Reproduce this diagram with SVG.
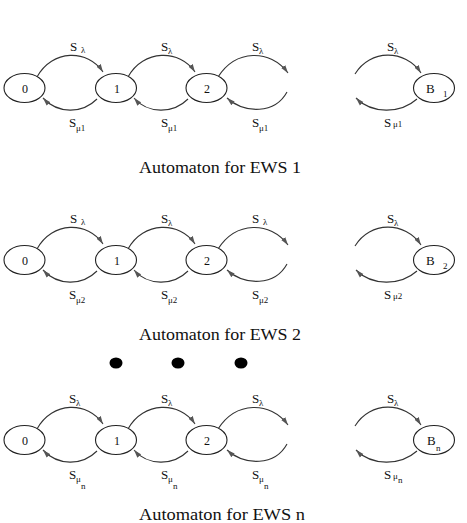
<svg xmlns="http://www.w3.org/2000/svg" width="467" height="523" viewBox="0 0 467 523">
<style>
.n{fill:#fff;stroke:#222;stroke-width:1.1}
.e{fill:none;stroke:#333;stroke-width:1.1;marker-end:url(#ah)}
.t{font-family:"Liberation Serif","Times New Roman",serif;fill:#111}
.lb{font-size:13px}
.sb{font-size:9px}
.nd{font-size:12px;text-anchor:middle}
.ti{font-size:16px}
</style>
<defs>
<marker id="ah" markerUnits="userSpaceOnUse" markerWidth="9" markerHeight="6" refX="8" refY="3" orient="auto">
<path d="M0,0.5 L8,3 L0,5.5 Z" fill="#555"/>
</marker>
</defs>
<rect width="467" height="523" fill="#fff"/>

<!-- Row 1 -->
<g id="row1">
<g id="edges1">
<path class="e" d="M37,77 C52,49 88,49 103,72"/>
<path class="e" d="M97,99 C82,114 58,114 43,98"/>
<path class="e" d="M128,77 C143,49 180,49 195,72"/>
<path class="e" d="M188,99 C173,114 148,114 134,98"/>
<path class="e" d="M218,77 C236,49 270,49 288,73"/>
<path class="e" d="M287,92 C275,114 245,114 227,98"/>
<path class="e" d="M355,74 C370,49 405,49 421,73"/>
<path class="e" d="M417,99 C400,114 372,114 356,98"/>
</g>
<g id="r1n0"><ellipse class="n" cx="24.5" cy="88" rx="20.5" ry="14.5"/><text class="t nd" x="25" y="92.5">0</text></g>
<g id="r1n1"><ellipse class="n" cx="116" cy="88" rx="20.5" ry="14.5"/><text class="t nd" x="117" y="92.5">1</text></g>
<g id="r1n2"><ellipse class="n" cx="206.5" cy="88" rx="20.5" ry="14.5"/><text class="t nd" x="207" y="92.5">2</text></g>
<g id="r1nB"><ellipse class="n" cx="434" cy="88" rx="20.5" ry="14.5"/><text class="t lb" x="426" y="93">B</text><text class="t sb" x="443" y="97">1</text></g>
<g id="labels1">
<text class="t lb" x="70" y="51">S</text><text class="t sb" x="81" y="53">λ</text>
<text class="t lb" x="161" y="51">S</text><text class="t sb" x="168" y="54">λ</text>
<text class="t lb" x="252" y="51">S</text><text class="t sb" x="259" y="54">λ</text>
<text class="t lb" x="387" y="51">S</text><text class="t sb" x="394" y="54">λ</text>
<text class="t lb" x="69" y="127">S</text><text class="t sb" x="76" y="131">μ1</text>
<text class="t lb" x="161" y="127">S</text><text class="t sb" x="168" y="131">μ1</text>
<text class="t lb" x="252" y="127">S</text><text class="t sb" x="259" y="131">μ1</text>
<text class="t lb" x="384" y="127">S</text><text class="t sb" x="393" y="127">μ1</text>
</g>
<text class="t ti" x="139" y="173" textLength="162" lengthAdjust="spacingAndGlyphs">Automaton for EWS 1</text>
</g>

<!-- Row 2 -->
<g id="row2" transform="translate(0,172)">
<g id="edges2">
<path class="e" d="M37,77 C52,49 88,49 103,72"/>
<path class="e" d="M97,99 C82,114 58,114 43,98"/>
<path class="e" d="M128,77 C143,49 180,49 195,72"/>
<path class="e" d="M188,99 C173,114 148,114 134,98"/>
<path class="e" d="M218,77 C236,49 270,49 288,73"/>
<path class="e" d="M287,92 C275,114 245,114 227,98"/>
<path class="e" d="M355,74 C370,49 405,49 421,73"/>
<path class="e" d="M417,99 C400,114 372,114 356,98"/>
</g>
<g id="r2n0"><ellipse class="n" cx="24.5" cy="88" rx="20.5" ry="14.5"/><text class="t nd" x="25" y="92.5">0</text></g>
<g id="r2n1"><ellipse class="n" cx="116" cy="88" rx="20.5" ry="14.5"/><text class="t nd" x="117" y="92.5">1</text></g>
<g id="r2n2"><ellipse class="n" cx="206.5" cy="88" rx="20.5" ry="14.5"/><text class="t nd" x="207" y="92.5">2</text></g>
<g id="r2nB"><ellipse class="n" cx="434" cy="88" rx="20.5" ry="14.5"/><text class="t lb" x="426" y="93">B</text><text class="t sb" x="443" y="97">2</text></g>
<g id="labels2">
<text class="t lb" x="70" y="51">S</text><text class="t sb" x="81" y="53">λ</text>
<text class="t lb" x="161" y="51">S</text><text class="t sb" x="168" y="54">λ</text>
<text class="t lb" x="252" y="51">S</text><text class="t sb" x="263" y="53">λ</text>
<text class="t lb" x="387" y="51">S</text><text class="t sb" x="394" y="54">λ</text>
<text class="t lb" x="69" y="127">S</text><text class="t sb" x="76" y="131">μ2</text>
<text class="t lb" x="161" y="127">S</text><text class="t sb" x="168" y="131">μ2</text>
<text class="t lb" x="252" y="127">S</text><text class="t sb" x="259" y="131">μ2</text>
<text class="t lb" x="384" y="127">S</text><text class="t sb" x="393" y="127">μ2</text>
</g>
<text class="t ti" x="139" y="168" textLength="162" lengthAdjust="spacingAndGlyphs">Automaton for EWS 2</text>
</g>

<g id="dots">
<ellipse cx="116" cy="363" rx="6.5" ry="5.5" fill="#000"/>
<ellipse cx="178" cy="363" rx="6.5" ry="5.5" fill="#000"/>
<ellipse cx="241" cy="363" rx="6.5" ry="5.5" fill="#000"/>
</g>

<!-- Row 3 -->
<g id="row3" transform="translate(0,352)">
<g id="edges3">
<path class="e" d="M37,77 C52,49 88,49 103,72"/>
<path class="e" d="M97,99 C82,114 58,114 43,98"/>
<path class="e" d="M128,77 C143,49 180,49 195,72"/>
<path class="e" d="M188,99 C173,114 148,114 134,98"/>
<path class="e" d="M218,77 C236,49 270,49 288,73"/>
<path class="e" d="M287,92 C275,114 245,114 227,98"/>
<path class="e" d="M355,74 C370,49 405,49 421,73"/>
<path class="e" d="M417,99 C400,114 372,114 356,98"/>
</g>
<g id="r3n0"><ellipse class="n" cx="24.5" cy="88" rx="20.5" ry="14.5"/><text class="t nd" x="25" y="92.5">0</text></g>
<g id="r3n1"><ellipse class="n" cx="116" cy="88" rx="20.5" ry="14.5"/><text class="t nd" x="117" y="92.5">1</text></g>
<g id="r3n2"><ellipse class="n" cx="206.5" cy="88" rx="20.5" ry="14.5"/><text class="t nd" x="207" y="92.5">2</text></g>
<g id="r3nB"><ellipse class="n" cx="434" cy="88" rx="20.5" ry="14.5"/><text class="t lb" x="427" y="93">B</text><text class="t sb" x="436" y="99">n</text></g>
<g id="labels3">
<text class="t lb" x="69" y="51">S</text><text class="t sb" x="76" y="54">λ</text>
<text class="t lb" x="161" y="51">S</text><text class="t sb" x="168" y="54">λ</text>
<text class="t lb" x="252" y="51">S</text><text class="t sb" x="259" y="54">λ</text>
<text class="t lb" x="387" y="51">S</text><text class="t sb" x="394" y="54">λ</text>
<text class="t lb" x="69" y="127">S</text><text class="t sb" x="76" y="130">μ</text><text class="t sb" x="81" y="137">n</text>
<text class="t lb" x="161" y="127">S</text><text class="t sb" x="168" y="130">μ</text><text class="t sb" x="173" y="137">n</text>
<text class="t lb" x="252" y="127">S</text><text class="t sb" x="259" y="130">μ</text><text class="t sb" x="264" y="137">n</text>
<text class="t lb" x="384" y="127">S</text><text class="t sb" x="393" y="127">μ</text><text class="t sb" x="398" y="131">n</text>
</g>
<text class="t ti" x="139" y="168" textLength="166" lengthAdjust="spacingAndGlyphs">Automaton for EWS n</text>
</g>
</svg>
